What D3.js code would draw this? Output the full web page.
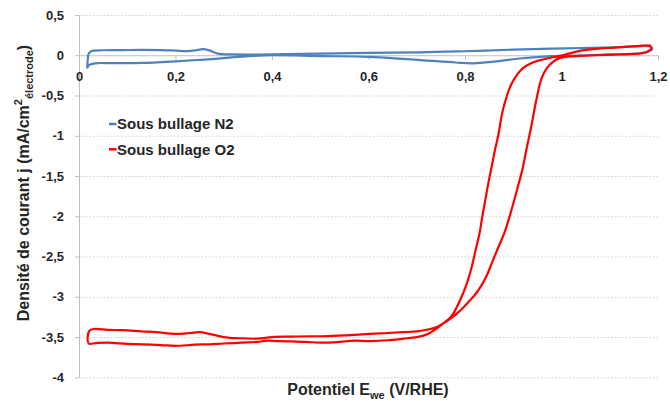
<!DOCTYPE html>
<html><head><meta charset="utf-8">
<script src="https://cdn.jsdelivr.net/npm/d3@7"></script>
<style>
body{margin:0;background:#fff}
svg{display:block}
text{font-family:"Liberation Sans",Arial,sans-serif;font-weight:bold;fill:#262626}
</style>
</head><body>
<svg id="c" width="670" height="401"></svg>
<script>
const xTicks = [0, 0.2, 0.4, 0.6, 0.8, 1, 1.2];
const yTicks = [0.5, 0, -0.5, -1, -1.5, -2, -2.5, -3, -3.5, -4];
const seriesNames = ["Sous bullage N2", "Sous bullage O2"];

// N2 cyclic voltammogram (closed loop)
const n2X = [0.017,0.018,0.02,0.026,0.05,0.09,0.13,0.17,0.2,0.226,0.245,0.257,0.27,0.288,0.32,0.36,0.4,0.5,0.6,0.707,0.8,0.9,0.98,1.04,1.12,1.183,1.188,1.178,1.156,1.1,1.052,0.98,0.914,0.86,0.817,0.78,0.707,0.6,0.5,0.4,0.337,0.268,0.2,0.13,0.07,0.033,0.02,0.017];
const n2Y = [-0.165,-0.06,0.02,0.053,0.062,0.064,0.066,0.064,0.058,0.052,0.065,0.075,0.06,0.02,0.01,0.008,0.01,0.02,0.03,0.035,0.05,0.07,0.083,0.09,0.1,0.11,0.08,0.04,0.02,0.01,0.0,-0.01,-0.04,-0.08,-0.1,-0.09,-0.06,-0.02,-0.01,0.0,-0.017,-0.05,-0.075,-0.095,-0.098,-0.1,-0.124,-0.165];

// O2 cyclic voltammogram (closed loop)
const o2X = [1.183,1.15,1.11,1.07,1.04,1.015,0.995,0.97,0.95,0.935,0.92,0.907,0.896,0.887,0.877,0.869,0.862,0.855,0.848,0.842,0.836,0.83,0.822,0.814,0.803,0.79,0.772,0.755,0.735,0.72,0.7,0.672,0.64,0.603,0.57,0.54,0.506,0.47,0.44,0.41,0.39,0.37,0.337,0.3,0.27,0.24,0.2,0.17,0.13,0.1,0.06,0.035,0.02,0.018,0.022,0.03,0.06,0.09,0.13,0.16,0.2,0.23,0.25,0.27,0.3,0.33,0.37,0.4,0.44,0.48,0.506,0.55,0.603,0.64,0.672,0.7,0.72,0.74,0.755,0.77,0.783,0.797,0.811,0.824,0.836,0.847,0.857,0.868,0.882,0.892,0.902,0.911,0.92,0.927,0.934,0.941,0.948,0.958,0.969,0.983,0.997,1.015,1.04,1.07,1.11,1.14,1.166,1.178,1.186,1.183];
const o2Y = [0.124,0.11,0.095,0.08,0.058,0.02,-0.01,-0.04,-0.07,-0.105,-0.16,-0.25,-0.36,-0.5,-0.72,-0.994,-1.18,-1.39,-1.6,-1.8,-2.0,-2.215,-2.42,-2.63,-2.85,-3.04,-3.24,-3.33,-3.42,-3.47,-3.5,-3.52,-3.54,-3.55,-3.545,-3.56,-3.57,-3.56,-3.555,-3.55,-3.545,-3.56,-3.57,-3.58,-3.59,-3.595,-3.61,-3.6,-3.59,-3.585,-3.57,-3.575,-3.58,-3.5,-3.42,-3.4,-3.41,-3.415,-3.43,-3.44,-3.46,-3.45,-3.44,-3.46,-3.5,-3.515,-3.52,-3.5,-3.495,-3.49,-3.49,-3.48,-3.46,-3.45,-3.44,-3.43,-3.41,-3.38,-3.33,-3.27,-3.21,-3.13,-3.04,-2.95,-2.84,-2.71,-2.56,-2.4,-2.2,-2.01,-1.8,-1.6,-1.39,-1.18,-0.98,-0.77,-0.55,-0.3,-0.166,-0.08,-0.033,-0.015,-0.008,0.0,0.008,0.015,0.025,0.045,0.085,0.124];

const svg = d3.select("#c");
const x = d3.scaleLinear().domain([0, 1.2]).range([79, 658]);
const y = d3.scaleLinear().domain([-4, 0.5]).range([377.3, 15]);
const fmt = d => String(d).replace(".", ",");

// gridlines
const grid = svg.append("g").attr("transform", `translate(${x(0)},0)`)
  .call(d3.axisLeft(y).tickValues(yTicks.filter(d => d !== 0)).tickSize(-(x(1.2) - x(0))).tickFormat(""));
grid.select(".domain").remove();
grid.selectAll("line").attr("stroke", "#d9d9d9").attr("stroke-dasharray", "2,1.5");

// y axis
const ya = svg.append("g").attr("transform", `translate(${x(0)},0)`)
  .call(d3.axisLeft(y).tickValues(yTicks).tickSize(4).tickSizeOuter(0).tickPadding(11).tickFormat(fmt));
ya.select(".domain").attr("stroke", "#bfbfbf");
ya.selectAll("line").attr("stroke", "#bfbfbf");
ya.selectAll("text").attr("font-size", 13).attr("font-family", null).attr("fill", "#262626");

// x axis at y=0
const xa = svg.append("g").attr("transform", `translate(0,${y(0)})`)
  .call(d3.axisBottom(x).tickValues(xTicks).tickSize(5).tickSizeOuter(0).tickPadding(12).tickFormat(fmt));
xa.select(".domain").attr("stroke", "#bfbfbf");
xa.selectAll("line").attr("stroke", "#bfbfbf");
xa.selectAll("text").attr("font-size", 13).attr("font-family", null).attr("fill", "#262626");

const line = d3.line().x(d => x(d[0])).y(d => y(d[1])).curve(d3.curveCatmullRom.alpha(0.5));
const n2 = n2X.map((v, i) => [v, n2Y[i]]);
const o2 = o2X.map((v, i) => [v, o2Y[i]]);
svg.append("path").attr("d", line(n2)).attr("fill", "none").attr("stroke", "#4f81bd").attr("stroke-width", 2.2);
svg.append("path").attr("d", line(o2)).attr("fill", "none").attr("stroke", "#ff0000").attr("stroke-width", 2.2).attr("stroke-linejoin", "round");

// legend
const colors = ["#4f81bd", "#ff0000"];
seriesNames.forEach((n, i) => {
  const gy = 124 + i * 25.3;
  svg.append("line").attr("x1", 109).attr("x2", 116.5).attr("y1", gy).attr("y2", gy)
    .attr("stroke", colors[i]).attr("stroke-width", 2.5);
  svg.append("text").attr("x", 117).attr("y", gy + 5.4).attr("font-size", 15).text(n);
});

// axis titles
const xt = svg.append("text").attr("x", 368).attr("y", 395).attr("text-anchor", "middle").attr("font-size", 16);
xt.append("tspan").text("Potentiel E");
xt.append("tspan").attr("font-size", 11).attr("dy", 4).text("we");
xt.append("tspan").attr("dy", -4).text(" (V/RHE)");

const yt = svg.append("text").attr("transform", "translate(29,183) rotate(-90)").attr("text-anchor", "middle").attr("font-size", 16);
yt.append("tspan").text("Densité de courant j (mA/cm");
yt.append("tspan").attr("font-size", 11).attr("dy", -7).text("2");
yt.append("tspan").attr("font-size", 11).attr("dy", 11).text("électrode");
yt.append("tspan").attr("dy", -4).text(")");
</script>
</body></html>
